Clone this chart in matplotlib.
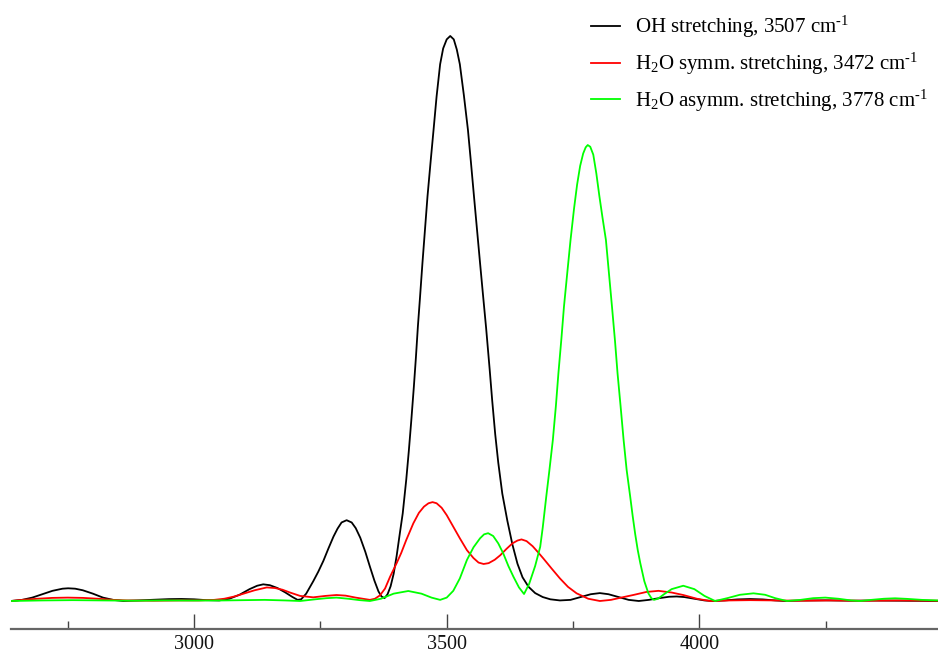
import matplotlib
matplotlib.use("Agg")
import matplotlib.pyplot as plt

plt.rcParams['font.family'] = ['Liberation Serif', 'DejaVu Serif']
plt.rcParams['mathtext.fontset'] = 'custom'
plt.rcParams['mathtext.rm'] = 'Liberation Serif'
plt.rcParams['mathtext.it'] = 'Liberation Serif:italic'
plt.rcParams['mathtext.default'] = 'rm'

# ---- data (wavenumber in cm^-1, normalised intensity) ----
oh_x = [2638, 2660, 2680, 2700, 2720, 2740, 2751, 2765, 2780, 2800, 2820, 2840, 2860, 2890,
        2920, 2950, 2975, 3000, 3025, 3050, 3070, 3090, 3110, 3125, 3137, 3150, 3165, 3180,
        3195, 3205, 3212, 3222, 3236, 3246, 3256, 3266, 3276, 3284, 3292, 3302, 3312, 3320,
        3329, 3339, 3348, 3357, 3365, 3371, 3377, 3383, 3389, 3395, 3401, 3407, 3413, 3420,
        3425, 3430, 3435, 3439, 3443, 3447, 3452, 3457, 3462, 3468, 3474, 3480, 3487, 3493,
        3500, 3507, 3514, 3520, 3526, 3534, 3542, 3548, 3554, 3560, 3566, 3572, 3578, 3585,
        3590, 3596, 3602, 3610, 3620, 3630, 3640, 3650, 3662, 3675, 3690, 3705, 3724, 3745,
        3765, 3785, 3803, 3820, 3840, 3860, 3880, 3900, 3920, 3940, 3955, 3970, 3990, 4010,
        4027, 4050, 4075, 4100, 4125, 4150, 4170, 4200, 4250, 4300, 4350, 4400, 4472]
oh_y = [0.000, 0.002, 0.006, 0.012, 0.018, 0.0218, 0.0225, 0.0218, 0.019, 0.013, 0.006, 0.002,
        0.000, 0.001, 0.0022, 0.0033, 0.0036, 0.003, 0.0015, 0.001, 0.004, 0.011, 0.021, 0.027,
        0.0295, 0.028, 0.023, 0.0155, 0.007, 0.002, 0.003, 0.013, 0.035, 0.052, 0.071, 0.093,
        0.114, 0.128, 0.139, 0.143, 0.139, 0.129, 0.112, 0.087, 0.061, 0.036, 0.017, 0.008,
        0.005, 0.012, 0.026, 0.048, 0.080, 0.118, 0.155, 0.215, 0.265, 0.320, 0.379, 0.430,
        0.486, 0.535, 0.598, 0.657, 0.716, 0.776, 0.834, 0.893, 0.950, 0.978, 0.994, 1.000,
        0.994, 0.976, 0.950, 0.895, 0.834, 0.776, 0.716, 0.657, 0.598, 0.540, 0.483, 0.410,
        0.355, 0.295, 0.245, 0.190, 0.142, 0.100, 0.066, 0.042, 0.025, 0.014, 0.007, 0.003,
        0.001, 0.002, 0.007, 0.012, 0.014, 0.012, 0.007, 0.002, 0.000, 0.002, 0.005, 0.0075,
        0.008, 0.007, 0.004, 0.001, 0.000, 0.001, 0.0028, 0.0035, 0.0028, 0.001, 0.000, 0.0008,
        0.0012, 0.0005, 0.0008, 0.0005, 0.000]

sym_x = [2638, 2660, 2690, 2720, 2750, 2780, 2810, 2840, 2870, 2920, 2970, 3010, 3040, 3060,
         3080, 3100, 3120, 3144, 3160, 3175, 3190, 3210, 3236, 3260, 3282, 3300, 3320, 3348,
         3358, 3368, 3378, 3388, 3401, 3410, 3420, 3434, 3445, 3455, 3464, 3472, 3480, 3490,
         3500, 3513, 3526, 3540, 3553, 3563, 3573, 3583, 3595, 3606, 3618, 3630, 3640, 3648,
         3658, 3670, 3680, 3691, 3708, 3724, 3740, 3757, 3780, 3803, 3825, 3845, 3869, 3895,
         3919, 3945, 3968, 3995, 4021, 4060, 4100, 4150, 4200, 4260, 4320, 4400, 4472]
sym_y = [0.000, 0.002, 0.004, 0.0055, 0.006, 0.0055, 0.004, 0.002, 0.001, 0.0005, 0.001,
         0.001, 0.002, 0.004, 0.008, 0.0135, 0.019, 0.024, 0.023, 0.020, 0.015, 0.009, 0.0065,
         0.009, 0.0106, 0.0095, 0.006, 0.002, 0.004, 0.010, 0.022, 0.043, 0.067, 0.085, 0.108,
         0.1375, 0.156, 0.167, 0.173, 0.175, 0.173, 0.165, 0.152, 0.1315, 0.111, 0.090, 0.076,
         0.068, 0.0655, 0.067, 0.073, 0.081, 0.092, 0.102, 0.107, 0.109, 0.106, 0.097, 0.087,
         0.0755, 0.057, 0.040, 0.025, 0.0136, 0.004, 0.000, 0.002, 0.006, 0.0106, 0.016, 0.018,
         0.015, 0.0106, 0.004, 0.000, 0.001, 0.0015, 0.001, 0.0005, 0.001, 0.0005, 0.001, 0.0005]

asym_x = [2638, 2700, 2760, 2820, 2880, 2940, 3000, 3060, 3100, 3140, 3180, 3210, 3240, 3262,
          3282, 3305, 3328, 3348, 3370, 3395, 3424, 3450, 3470, 3487, 3500, 3513, 3526, 3540,
          3553, 3566, 3574, 3582, 3592, 3602, 3612, 3622, 3632, 3643, 3653, 3663, 3675, 3685,
          3690, 3697, 3703, 3710, 3716, 3721, 3727, 3732, 3739, 3745, 3752, 3758, 3764, 3770,
          3775, 3779, 3784, 3790, 3796, 3802, 3808, 3815, 3821, 3827, 3833, 3838, 3844, 3850,
          3856, 3863, 3868, 3873, 3878, 3883, 3891, 3899, 3905, 3910, 3918, 3930, 3945, 3968,
          3990, 4010, 4031, 4055, 4080, 4107, 4130, 4150, 4173, 4200, 4225, 4249, 4275, 4300,
          4318, 4340, 4365, 4387, 4410, 4440, 4472]
asym_y = [0.000, 0.001, 0.0015, 0.001, 0.0005, 0.001, 0.0008, 0.001, 0.0015, 0.002, 0.001,
          0.000, 0.003, 0.005, 0.006, 0.004, 0.0015, 0.000, 0.004, 0.013, 0.0177, 0.013, 0.006,
          0.002, 0.006, 0.018, 0.040, 0.0726, 0.095, 0.111, 0.118, 0.120, 0.115, 0.102, 0.084,
          0.062, 0.043, 0.024, 0.0124, 0.030, 0.062, 0.096, 0.130, 0.185, 0.230, 0.285, 0.345,
          0.403, 0.465, 0.521, 0.585, 0.639, 0.695, 0.737, 0.770, 0.792, 0.803, 0.807, 0.804,
          0.790, 0.757, 0.717, 0.680, 0.639, 0.580, 0.521, 0.460, 0.403, 0.345, 0.285, 0.232,
          0.185, 0.150, 0.118, 0.090, 0.067, 0.035, 0.0136, 0.005, 0.002, 0.004, 0.012, 0.021,
          0.027, 0.021, 0.009, 0.000, 0.005, 0.011, 0.0136, 0.011, 0.005, 0.000, 0.002, 0.005,
          0.006, 0.004, 0.001, 0.000, 0.002, 0.004, 0.0048, 0.0038, 0.002, 0.001]

labels = [r'OH stretching, 3507 cm$^{\text{-}1}$',
          r'H$_{2}$O symm. stretching, 3472 cm$^{\text{-}1}$',
          r'H$_{2}$O asymm. stretching, 3778 cm$^{\text{-}1}$']
colors = ['#000000', '#ff0000', '#00ff00']
major_ticks = [3000, 3500, 4000]
minor_ticks = [2750, 3250, 3750, 4250]

# ---- figure ----
W, H = 938, 654
fig = plt.figure(figsize=(W / 100, H / 100), dpi=100)
ax = fig.add_axes([11 / W, 25 / H, 927 / W, 629 / H])

for xs, ys, c, lab in zip([oh_x, sym_x, asym_x], [oh_y, sym_y, asym_y], colors, labels):
    ax.plot(xs, ys, color=c, lw=1.3, label=lab, solid_joinstyle='round')

ax.set_xlim(2638, 4472)
ax.set_ylim(-28 / 565, 601 / 565)

for s in ['left', 'right', 'top']:
    ax.spines[s].set_visible(False)
ax.spines['bottom'].set_color('#666666')
ax.spines['bottom'].set_linewidth(1.6)
ax.set_yticks([])
ax.set_xticks(major_ticks)
ax.set_xticks(minor_ticks, minor=True)
ax.tick_params(axis='x', which='major', direction='in', length=11, width=1.0,
               color='#444444', labelsize=14.5, pad=4, labelcolor='#111111')
ax.tick_params(axis='x', which='minor', direction='in', length=5.5, width=1.0,
               color='#444444')

leg = ax.legend(loc='upper left', bbox_to_anchor=(591 / W, 1 - 14 / H),
                bbox_transform=fig.transFigure, frameon=False, fontsize=15,
                handlelength=1.4, handletextpad=0.7, labelspacing=0.51,
                borderpad=0, borderaxespad=0)
for l in leg.get_lines():
    l.set_linewidth(1.3)

fig.savefig('out.png', dpi=100)
